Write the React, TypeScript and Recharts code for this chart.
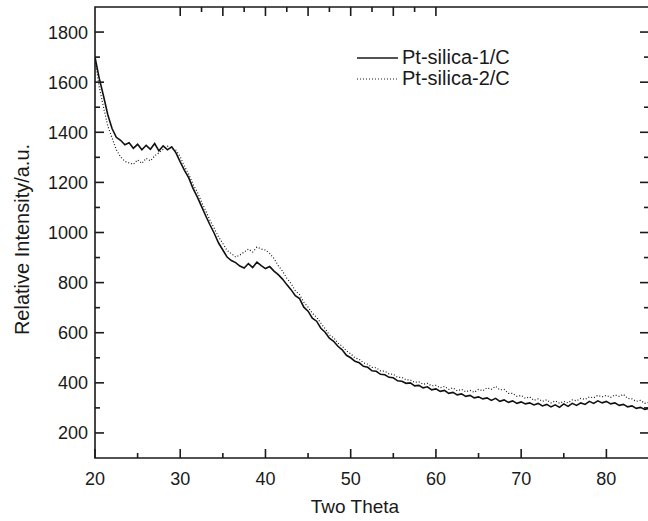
import React from "react";
import { LineChart, Line, XAxis, YAxis, Label, ReferenceArea } from "recharts";

const theta: number[] = [];
for (let i = 0; i <= 130; i++) theta.push(20 + i * 0.5);

const silica1: number[] = [
  1700, 1615, 1545, 1470, 1415, 1380, 1368, 1350, 1358, 1336,
  1352, 1330, 1348, 1332, 1355, 1326, 1346, 1330, 1342, 1318,
  1282, 1248, 1218, 1176, 1142, 1104, 1066, 1030, 996, 958,
  930, 902, 888, 880, 866, 858, 876, 860, 882, 868,
  856, 864, 846, 832, 814, 792, 772, 748, 736, 702,
  686, 658, 646, 618, 602, 578, 566, 546, 532, 510,
  500, 486, 480, 466, 462, 448, 446, 434, 432, 422,
  420, 408, 406, 398, 400, 388, 390, 380, 384, 372,
  376, 366, 370, 358, 362, 352, 356, 346, 350, 340,
  344, 336, 340, 330, 338, 326, 332, 322, 328, 318,
  324, 316, 320, 312, 318, 308, 314, 304, 312, 302,
  316, 306, 318, 310, 320, 314, 326, 318, 328, 320,
  326, 316, 320, 310, 314, 304, 308, 298, 302, 294,
  298,
];

const silica2: number[] = [
  1690, 1580, 1500, 1425, 1378, 1330, 1302, 1284, 1278, 1272,
  1290, 1276, 1296, 1286, 1306, 1318, 1332, 1344, 1336, 1328,
  1302, 1264, 1232, 1192, 1162, 1122, 1086, 1048, 1016, 982,
  956, 928, 916, 902, 910, 922, 934, 922, 942, 934,
  930, 916, 896, 868, 846, 818, 796, 768, 752, 722,
  702, 678, 662, 638, 616, 592, 580, 558, 546, 528,
  516, 500, 494, 480, 474, 462, 460, 448, 446, 436,
  434, 422, 422, 412, 412, 402, 404, 394, 398, 388,
  390, 380, 386, 374, 380, 368, 374, 364, 370, 362,
  374, 368, 380, 374, 386, 372, 374, 358, 358, 346,
  350, 338, 344, 330, 336, 326, 332, 320, 328, 318,
  326, 320, 332, 328, 338, 334, 344, 340, 350, 344,
  350, 342, 352, 346, 354, 338, 336, 326, 330, 318,
  322,
];

const xTicks = [20, 25, 30, 35, 40, 45, 50, 55, 60, 65, 70, 75, 80];
const xMajor = [20, 30, 40, 50, 60, 70, 80];
const yTicks = [200, 300, 400, 500, 600, 700, 800, 900, 1000, 1100, 1200, 1300, 1400, 1500, 1600, 1700, 1800];
const yMajor = [200, 400, 600, 800, 1000, 1200, 1400, 1600, 1800];

const seriesNames = ["Pt-silica-1/C", "Pt-silica-2/C"];

const data = theta.map((t, i) => ({ t, s1: silica1[i], s2: silica2[i] }));

const FONT = "'Liberation Sans', Arial, sans-serif";
const INK = "#1a1a1a";
const MAJ = 9;
const MIN = 5;
const TW = 1.6;

const BottomTick = (p: any) => {
  const v = p.payload.value;
  const major = xMajor.includes(v);
  return (
    <g>
      <path d={`M${p.x},${p.y}L${p.x},${p.y - (major ? MAJ : MIN)}`} stroke={INK} strokeWidth={TW} fill="none" />
      {major && (
        <text x={p.x} y={p.y + 27} textAnchor="middle" fontSize={18} fontFamily={FONT} fill={INK}>
          {v}
        </text>
      )}
    </g>
  );
};

const TopTick = (p: any) => {
  const v = p.payload.value;
  const major = xMajor.includes(v);
  return <path d={`M${p.x},${p.y}L${p.x},${p.y + (major ? MAJ : MIN)}`} stroke={INK} strokeWidth={TW} fill="none" />;
};

const LeftTick = (p: any) => {
  const v = p.payload.value;
  const major = yMajor.includes(v);
  return (
    <g>
      <path d={`M${p.x},${p.y}L${p.x + (major ? MAJ : MIN)},${p.y}`} stroke={INK} strokeWidth={TW} fill="none" />
      {major && (
        <text x={p.x - 7} y={p.y + 6.5} textAnchor="end" fontSize={18} fontFamily={FONT} fill={INK}>
          {v}
        </text>
      )}
    </g>
  );
};

const RightTick = (p: any) => {
  const v = p.payload.value;
  const major = yMajor.includes(v);
  return <path d={`M${p.x},${p.y}L${p.x - (major ? MAJ : MIN)},${p.y}`} stroke={INK} strokeWidth={TW} fill="none" />;
};

const XTitle = (props: any) => {
  const vb = props.viewBox;
  return (
    <text x={vb.x + vb.width / 2 - 17} y={vb.y + vb.height - 8} textAnchor="middle" fontSize={19} fontFamily={FONT} fill={INK}>
      Two Theta
    </text>
  );
};

const YTitle = (props: any) => {
  const vb = props.viewBox;
  const cx = vb.x + 29;
  const cy = vb.y + vb.height / 2 + 7;
  return (
    <text x={cx} y={cy} transform={`rotate(-90, ${cx}, ${cy})`} textAnchor="middle" fontSize={20} fontFamily={FONT} fill={INK}>
      Relative Intensity/a.u.
    </text>
  );
};

const axisCommon = {
  interval: 0 as const,
  tickSize: 0,
  tickMargin: 0,
  tickLine: false,
  axisLine: false,
  allowDataOverflow: true,
};

export default function App() {
  return (
    <div style={{ position: "absolute", left: 0, top: 0, width: 648, height: 521, overflow: "hidden", background: "#fff" }}>
      <LineChart width={650} height={521} data={data} margin={{ top: 6, right: 0, bottom: 0, left: 0 }}>
        <XAxis {...axisCommon} xAxisId="b" dataKey="t" type="number" domain={[20, 85]} ticks={xTicks} tick={<BottomTick />} height={63}>
          <Label content={<XTitle />} />
        </XAxis>
        <XAxis {...axisCommon} xAxisId="top" orientation="top" type="number" domain={[20, 85]} ticks={xTicks} tick={<TopTick />} height={1} />
        <YAxis {...axisCommon} yAxisId="l" type="number" domain={[100, 1900]} ticks={yTicks} tick={<LeftTick />} width={95}>
          <Label content={<YTitle />} />
        </YAxis>
        <YAxis {...axisCommon} yAxisId="r" orientation="right" type="number" domain={[100, 1900]} ticks={yTicks} tick={<RightTick />} width={1} />
        <ReferenceArea
          xAxisId="b"
          yAxisId="l"
          x1={20}
          x2={85}
          y1={100}
          y2={1900}
          fill="none"
          fillOpacity={0}
          stroke={INK}
          strokeWidth={1.6}
          ifOverflow="visible"
        />
        <Line xAxisId="b" yAxisId="l" dataKey="s2" name={seriesNames[1]} stroke={INK} strokeWidth={1.2} strokeDasharray="1 2" dot={false} isAnimationActive={false} type="linear" />
        <Line xAxisId="b" yAxisId="l" dataKey="s1" name={seriesNames[0]} stroke="#111" strokeWidth={1.6} dot={false} isAnimationActive={false} type="linear" />
      </LineChart>
      <div style={{ position: "absolute", left: 357, top: 47, fontFamily: FONT, fontSize: 20, color: INK }}>
        {seriesNames.map((name, i) => (
          <div key={name} style={{ display: "flex", alignItems: "center", height: 21, whiteSpace: "nowrap" }}>
            <svg width={41} height={6} style={{ marginRight: 4, display: "block" }}>
              <line x1={0} x2={41} y1={3} y2={3} stroke={INK} strokeWidth={i === 0 ? 1.5 : 1.2} strokeDasharray={i === 0 ? undefined : "1 2"} />
            </svg>
            <span>{name}</span>
          </div>
        ))}
      </div>
    </div>
  );
}
